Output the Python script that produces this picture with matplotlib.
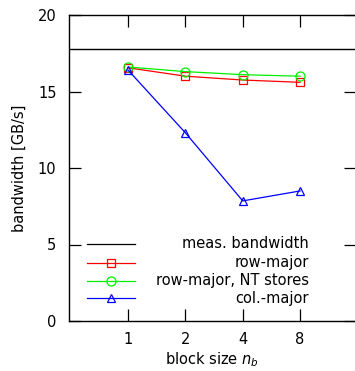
import matplotlib
matplotlib.use("Agg")
import matplotlib.pyplot as plt
import numpy as np

# datos
block_sizes = [1, 2, 4, 8]
meas_bw = 17.8
row_major = [16.55, 16.0, 15.75, 15.6]
row_major_nt = [16.6, 16.3, 16.1, 16.0]
col_major = [16.4, 12.3, 7.85, 8.5]

plt.rcParams["font.family"] = "DejaVu Sans"
plt.rcParams["mathtext.fontset"] = "dejavusans"
fs = 10.5

fig = plt.figure(figsize=(3.55, 3.71), dpi=100)
W, H = 355, 371
ax = fig.add_axes([69 / W, (371 - 321) / H, 286.7 / W, 306 / H])

x = np.log2(block_sizes)

ax.axhline(meas_bw, color="black", lw=1.0)
ax.plot(x, row_major, color="#ff0000", lw=0.9, marker="s", ms=6.3, mfc="none", mew=0.9)
ax.plot(x, row_major_nt, color="#00f000", lw=0.9, marker="o", ms=6.5, mfc="none", mew=0.9)
ax.plot(x, col_major, color="#0000ff", lw=0.9, marker="^", ms=5.5, mfc="none", mew=0.9)

ax.set_xlim(-1.03, 3.97)
ax.set_ylim(0, 20)
ax.set_xticks(x)
ax.set_xticklabels([str(b) for b in block_sizes])
ax.set_yticks([0, 5, 10, 15, 20])
ax.tick_params(direction="in", length=8.5, width=0.9, top=True, right=True,
               labelsize=fs, colors="black")
ax.tick_params(axis="y", pad=9)
ax.tick_params(axis="x", pad=8)
for s in ax.spines.values():
    s.set_linewidth(1.0)

ax.set_xlabel("block size $n_b$", fontsize=fs, labelpad=2)
ax.set_ylabel("bandwidth [GB/s]", fontsize=fs, labelpad=8)

# leyenda estilo gnuplot: muestra a la izquierda, texto alineado a la derecha
etiquetas = ["meas. bandwidth", "row-major", "row-major, NT stores", "col.-major"]
estilos = [("black", None, 6), ("#ff0000", "s", 6.3), ("#00f000", "o", 6.5), ("#0000ff", "^", 5.5)]
filas_y = [0.252, 0.19, 0.131, 0.075]
for lab, (col, mk, ms), yy in zip(etiquetas, estilos, filas_y):
    ax.plot([0.063, 0.230], [yy, yy], color=col, lw=0.9, transform=ax.transAxes)
    if mk:
        ax.plot([0.147], [yy], color=col, marker=mk, ms=ms, mfc="none", mew=0.9,
                transform=ax.transAxes)
    ax.text(0.837, yy, lab, ha="right", va="center", fontsize=fs, transform=ax.transAxes)

fig.savefig("out.png", dpi=100)
